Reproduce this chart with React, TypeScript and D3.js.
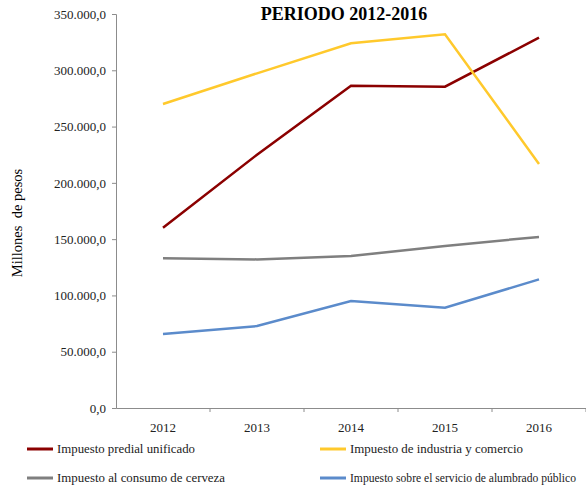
import React, { useRef, useEffect } from "react";
import * as d3 from "d3";

const years = ["2012", "2013", "2014", "2015", "2016"];
const predial = [160200, 225000, 286300, 285400, 329000];
const industria = [270000, 297300, 324000, 332000, 216800];
const cerveza = [133000, 132000, 135000, 144000, 152000];
const alumbrado = [65700, 72800, 95000, 89000, 114300];
const seriesNames = [
  "Impuesto predial unificado",
  "Impuesto de industria y comercio",
  "Impuesto al consumo de cerveza",
  "Impuesto sobre el servicio de alumbrado público",
];
const seriesColors = ["#8b0000", "#ffc92c", "#7f7f7f", "#5b8bcb"];
const yTicks = [0, 50000, 100000, 150000, 200000, 250000, 300000, 350000];

const fmt = (v: number) => {
  const s = d3.format(",.1f")(v);
  return s.replace(/,/g, "#").replace(".", ",").replace(/#/g, ".");
};

const App: React.FC = () => {
  const svgRef = useRef<SVGSVGElement>(null);

  useEffect(() => {
    const svg = d3.select(svgRef.current);
    svg.selectAll("*").remove();
    const width = 586;
    const height = 485;
    const margin = { top: 14, right: 0, bottom: 77, left: 116 };
    const font = "'Liberation Serif', 'Times New Roman', serif";

    const x = d3
      .scaleBand()
      .domain(years)
      .range([margin.left, width - margin.right]);
    const y = d3
      .scaleLinear()
      .domain([0, 350000])
      .range([height - margin.bottom, margin.top]);

    svg
      .append("text")
      .attr("x", 344)
      .attr("y", 20)
      .attr("text-anchor", "middle")
      .style("font-family", font)
      .attr("font-weight", "bold")
      .attr("font-size", 18)
      .text("PERIODO 2012-2016");

    const yAxis = svg
      .append("g")
      .attr("transform", `translate(${margin.left},0)`)
      .call(
        d3
          .axisLeft(y)
          .tickValues(yTicks)
          .tickSize(4)
          .tickPadding(6)
          .tickFormat((d) => fmt(d as number))
      );
    yAxis.attr("font-family", null);
    yAxis.select(".domain").attr("stroke", "#8c8c8c");
    yAxis.selectAll(".tick line").attr("stroke", "#8c8c8c");
    yAxis
      .selectAll("text")
      .style("font-family", font)
      .style("font-size", "13px")
      .attr("fill", "#222");

    const xAxis = svg
      .append("g")
      .attr("transform", `translate(0,${y(0)})`)
      .call(d3.axisBottom(x).tickSize(0).tickPadding(15));
    xAxis.attr("font-family", null);
    xAxis.select(".domain").attr("stroke", "#8c8c8c");
    xAxis
      .selectAll("text")
      .style("font-family", font)
      .style("font-size", "13px")
      .attr("fill", "#222");
    xAxis
      .selectAll(".sep")
      .data(years)
      .enter()
      .append("line")
      .attr("class", "sep")
      .attr("x1", (d) => (x(d) as number) + x.bandwidth())
      .attr("x2", (d) => (x(d) as number) + x.bandwidth())
      .attr("y1", 0)
      .attr("y2", 4)
      .attr("stroke", "#8c8c8c");

    svg
      .append("text")
      .attr("transform", `translate(22,${223}) rotate(-90)`)
      .attr("text-anchor", "middle")
      .style("font-family", font)
      .style("font-size", "14.5px")
      .style("white-space", "pre")
      .text("Millones  de pesos");

    const allSeries = [predial, industria, cerveza, alumbrado];
    const line = d3
      .line<number>()
      .x((_, i) => (x(years[i]) as number) + x.bandwidth() / 2)
      .y((d) => y(d));

    allSeries.forEach((s, i) => {
      svg
        .append("path")
        .datum(s)
        .attr("d", line)
        .attr("fill", "none")
        .attr("stroke", seriesColors[i])
        .attr("stroke-width", 2.5);
    });

    const legendPos = [
      [27, 449, 138],
      [320, 449, 173],
      [27, 478, 168],
      [320, 478, 226],
    ];
    seriesNames.forEach((name, i) => {
      const [lx, ly, tl] = legendPos[i];
      const g = svg.append("g");
      g.append("line")
        .attr("x1", lx)
        .attr("x2", lx + 26)
        .attr("y1", ly)
        .attr("y2", ly)
        .attr("stroke", seriesColors[i])
        .attr("stroke-width", 3);
      g.append("text")
        .attr("x", lx + 30)
        .attr("y", ly + 4)
        .attr("textLength", tl)
        .attr("lengthAdjust", "spacingAndGlyphs")
        .style("font-family", font)
        .style("font-size", "12px")
        .attr("fill", "#222")
        .text(name);
    });
  }, []);

  return (
    <svg
      ref={svgRef}
      width={586}
      height={485}
      style={{ position: "absolute", left: 0, top: 0 }}
    ></svg>
  );
};

export default App;
